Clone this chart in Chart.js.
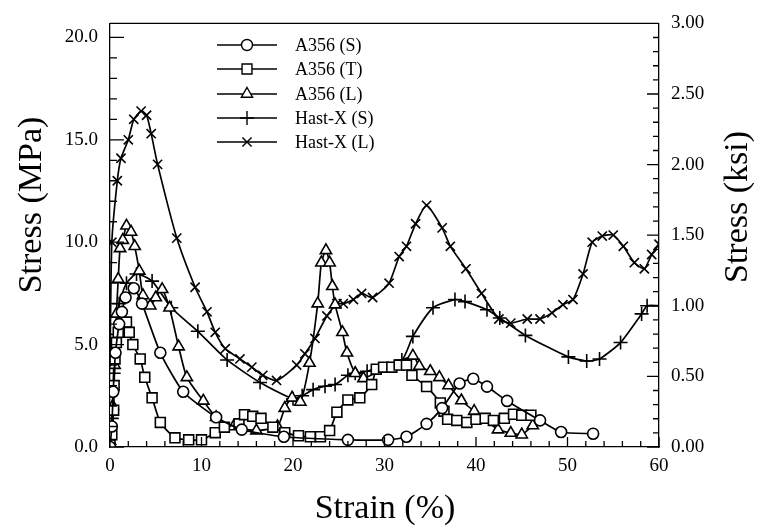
<!DOCTYPE html>
<html lang="en">
<head>
    <meta charset="utf-8" />
    <title>Stress vs Strain</title>
    <script src="https://cdn.jsdelivr.net/npm/chart.js"></script>
    <style>
        html, body { margin: 0; padding: 0; background: #ffffff; }
        #box { width: 758px; height: 531px; }
    </style>
</head>
<body>
<div id="box"><canvas id="grafico_stress"></canvas></div>
<script>
    // Dados (strain em %, stress em MPa)
    const strainA356S = [0, 0.2, 0.35, 0.6, 1.0, 1.3, 1.7, 2.6, 3.5, 5.5, 8.0, 11.6, 14.4, 19.0, 26.0, 30.4, 32.4, 34.6, 36.3, 38.2, 39.7, 41.2, 43.4, 47.0, 49.3, 52.8];
    const stressA356S = [0, 1.0, 2.7, 4.6, 6.0, 6.6, 7.3, 7.75, 7.0, 4.6, 2.7, 1.45, 0.85, 0.5, 0.35, 0.35, 0.5, 1.13, 1.9, 3.1, 3.33, 2.95, 2.25, 1.3, 0.73, 0.65];

    const strainA356T = [0, 0.2, 0.4, 0.45, 0.55, 0.7, 0.9, 1.8, 2.1, 2.5, 3.3, 3.8, 4.6, 5.5, 7.1, 8.6, 10.0, 11.5, 12.5, 14.1, 14.7, 15.6, 16.5, 17.8, 19.1, 20.6, 21.9, 23.0, 24.0, 24.8, 26.0, 27.3, 28.6, 29.1, 29.9, 30.8, 31.6, 32.4, 33.0, 34.6, 36.1, 36.5, 36.9, 37.9, 39.0, 40.0, 41.0, 41.9, 43.1, 44.1, 45.0, 46.0];
    const stressA356T = [0.1, 0.6, 1.8, 3.0, 4.3, 5.1, 5.6, 6.1, 5.6, 5.0, 4.3, 3.4, 2.4, 1.2, 0.45, 0.35, 0.35, 0.7, 0.97, 1.13, 1.58, 1.5, 1.4, 0.97, 0.7, 0.55, 0.5, 0.5, 0.8, 1.7, 2.3, 2.4, 3.05, 3.8, 3.9, 3.9, 4.0, 4.0, 3.5, 2.95, 2.15, 1.75, 1.35, 1.3, 1.2, 1.35, 1.4, 1.3, 1.4, 1.6, 1.55, 1.55];

    const strainA356L = [0, 0.3, 0.5, 0.7, 0.9, 1.1, 1.4, 1.8, 2.3, 2.7, 3.2, 3.6, 4.4, 5.0, 5.7, 6.5, 7.5, 8.4, 10.2, 11.6, 13.5, 16.0, 18.3, 19.1, 19.9, 20.8, 21.8, 22.7, 23.1, 23.6, 24.0, 24.3, 24.6, 25.4, 25.9, 26.8, 27.7, 33.1, 33.8, 35.0, 36.0, 37.0, 38.4, 39.8, 42.4, 43.8, 45.0, 46.2];
    const stressA356L = [0.3, 2.0, 4.0, 6.5, 8.2, 9.7, 10.1, 10.8, 10.5, 9.8, 8.6, 7.4, 6.9, 7.3, 7.7, 6.8, 4.9, 3.4, 2.25, 1.45, 1.0, 0.8, 1.0, 1.9, 2.4, 2.2, 4.1, 7.0, 9.0, 9.6, 9.0, 7.85, 6.95, 5.6, 4.6, 3.6, 3.35, 4.45, 3.95, 3.7, 3.4, 3.0, 2.27, 1.75, 0.85, 0.68, 0.6, 1.05];

    const strainHastS = [0, 0.2, 0.4, 0.6, 1.0, 1.8, 2.9, 4.6, 6.7, 9.6, 12.8, 16.4, 20.0, 21.0, 22.2, 23.5, 24.6, 26.0, 26.8, 28.1, 31.9, 33.1, 35.3, 37.7, 38.8, 41.2, 42.6, 45.4, 50.1, 52.1, 53.5, 55.8, 58.1, 58.7, 60];
    const stressHastS = [0, 1.4, 3.6, 5.5, 7.0, 8.0, 8.45, 8.1, 6.8, 5.65, 4.25, 3.15, 2.35, 2.5, 2.8, 2.97, 3.05, 3.5, 3.6, 3.7, 4.25, 5.4, 6.8, 7.2, 7.1, 6.7, 6.3, 5.45, 4.4, 4.2, 4.3, 5.1, 6.5, 6.9, 6.9];

    const strainHastL = [0, 0.2, 0.8, 1.2, 2.0, 2.6, 3.4, 4.0, 4.5, 5.2, 7.3, 9.3, 10.6, 11.5, 12.6, 14.2, 15.5, 16.7, 18.2, 20.4, 21.3, 22.4, 23.7, 24.8, 25.5, 26.6, 27.5, 28.7, 30.5, 31.6, 32.4, 33.4, 34.6, 36.3, 37.2, 38.9, 40.6, 42.5, 43.8, 45.6, 47.0, 48.3, 49.5, 50.6, 51.7, 52.7, 53.8, 55.0, 56.1, 57.3, 58.4, 59.2, 60];
    const stressHastL = [4.0, 10.0, 13.0, 14.1, 15.0, 16.0, 16.4, 16.2, 15.3, 13.8, 10.2, 7.8, 6.6, 5.6, 4.8, 4.3, 3.9, 3.5, 3.25, 4.0, 4.55, 5.3, 6.4, 7.0, 7.0, 7.2, 7.5, 7.3, 8.0, 9.3, 9.8, 10.9, 11.8, 10.7, 9.8, 8.7, 7.5, 6.25, 6.05, 6.25, 6.25, 6.55, 6.95, 7.2, 8.45, 10.0, 10.3, 10.35, 9.8, 9.0, 8.7, 9.4, 9.9];

    const seriesNames = ["A356 (S)", "A356 (T)", "A356 (L)", "Hast-X (S)", "Hast-X (L)"];
    const seriesMarkers = ["circle", "rect", "triangle", "cross", "crossRot"];

    const xTicks = [0, 10, 20, 30, 40, 50, 60];
    const yTicksMPa = [0, 5, 10, 15, 20];
    const yTicksKsi = [0, 0.5, 1.0, 1.5, 2.0, 2.5, 3.0];
    const KSI_MAX = 3.0;
    const MPA_POR_KSI = 6.8948;

    const fonte = "'Liberation Serif', 'DejaVu Serif', serif";

    function montarSerie(xs, ys) {
        return xs.map((x, i) => ({ x: x, y: ys[i] }));
    }

    const raios = { circle: 5.5, rect: 7, triangle: 6.5, cross: 7, crossRot: 6.5 };

    const datasets = [
        montarSerie(strainA356S, stressA356S),
        montarSerie(strainA356T, stressA356T),
        montarSerie(strainA356L, stressA356L),
        montarSerie(strainHastS, stressHastS),
        montarSerie(strainHastL, stressHastL)
    ].map((dados, i) => ({
        label: seriesNames[i],
        data: dados,
        borderColor: "#000000",
        backgroundColor: "#ffffff",
        borderWidth: 1.7,
        pointStyle: seriesMarkers[i],
        pointRadius: raios[seriesMarkers[i]],
        pointBorderWidth: 1.6,
        pointBorderColor: "#000000",
        pointBackgroundColor: "#ffffff",
        tension: 0.2,
        yAxisID: "y"
    }));

    // ticks internos, borda de cima, legenda e titulos
    const decoracao = {
        id: "decoracao",
        afterDraw(chart) {
            const ctx = chart.ctx;
            const area = chart.chartArea;
            const sx = chart.scales.x, sy = chart.scales.y, sy2 = chart.scales.y2;
            ctx.save();
            ctx.strokeStyle = "#000000";
            ctx.lineWidth = 1.3;
            ctx.beginPath();
            ctx.moveTo(area.left, area.top);
            ctx.lineTo(area.right, area.top);
            // eixo x
            for (let v = 0; v <= 60; v += 2) {
                const px = sx.getPixelForValue(v);
                const len = v % 10 === 0 ? 10 : 6;
                ctx.moveTo(px, area.bottom);
                ctx.lineTo(px, area.bottom - len);
            }
            // eixo MPa
            for (let v = 0; v <= 20; v += 1) {
                const py = sy.getPixelForValue(v);
                const len = v % 5 === 0 ? 14 : 7;
                ctx.moveTo(area.left, py);
                ctx.lineTo(area.left + len, py);
            }
            // eixo ksi
            for (let k = 0; k <= 30; k += 1) {
                const py = sy2.getPixelForValue(k / 10);
                const len = k % 5 === 0 ? 12 : 6;
                ctx.moveTo(area.right, py);
                ctx.lineTo(area.right - len, py);
            }
            ctx.stroke();

            // legenda
            const linhas = [45, 69, 94, 118, 142];
            ctx.font = "18px " + fonte;
            ctx.textBaseline = "middle";
            linhas.forEach((ly, i) => {
                ctx.strokeStyle = "#000000";
                ctx.lineWidth = 1.4;
                ctx.beginPath();
                ctx.moveTo(217, ly);
                ctx.lineTo(277, ly);
                ctx.stroke();
                ctx.fillStyle = "#ffffff";
                Chart.helpers.drawPoint(ctx, {
                    pointStyle: seriesMarkers[i],
                    radius: raios[seriesMarkers[i]],
                    rotation: 0,
                    borderWidth: 1.6
                }, 247, ly);
                ctx.fillStyle = "#000000";
                ctx.fillText(seriesNames[i], 295, ly + 1);
            });

            // titulos dos eixos
            ctx.fillStyle = "#000000";
            ctx.font = "34px " + fonte;
            ctx.textAlign = "center";
            ctx.textBaseline = "middle";
            ctx.save();
            ctx.translate(32, 205);
            ctx.rotate(-Math.PI / 2);
            ctx.fillText("Stress (MPa)", 0, 0);
            ctx.restore();
            ctx.save();
            ctx.translate(738, 207);
            ctx.rotate(-Math.PI / 2);
            ctx.fillText("Stress (ksi)", 0, 0);
            ctx.restore();
            ctx.fillText("Strain (%)", 385, 509);
            ctx.restore();
        }
    };

    const ctxStress = document.getElementById("grafico_stress").getContext("2d");
    new Chart(ctxStress, {
        type: "line",
        data: { datasets: datasets },
        plugins: [decoracao],
        options: {
            responsive: true,
            maintainAspectRatio: false,
            animation: false,
            layout: { padding: { top: 15, left: 0, right: 0, bottom: 0 } },
            plugins: {
                legend: { display: false },
                tooltip: { enabled: false }
            },
            scales: {
                x: {
                    type: "linear",
                    min: 0,
                    max: 60,
                    afterBuildTicks: (s) => { s.ticks = xTicks.map((v) => ({ value: v })); },
                    afterFit: (s) => { s.height = 84; },
                    grid: { display: false, drawTicks: false },
                    border: { display: true, color: "#000000", width: 1.3 },
                    ticks: { color: "#000000", font: { family: fonte, size: 19 }, padding: 8, maxRotation: 0 }
                },
                y: {
                    type: "linear",
                    position: "left",
                    min: 0,
                    max: KSI_MAX * MPA_POR_KSI,
                    afterBuildTicks: (s) => { s.ticks = yTicksMPa.map((v) => ({ value: v })); },
                    afterFit: (s) => { s.width = 110; },
                    grid: { display: false, drawTicks: false },
                    border: { display: true, color: "#000000", width: 1.3 },
                    ticks: { color: "#000000", font: { family: fonte, size: 19 }, padding: 12, callback: (v) => Number(v).toFixed(1) }
                },
                y2: {
                    type: "linear",
                    position: "right",
                    min: 0,
                    max: KSI_MAX,
                    afterBuildTicks: (s) => { s.ticks = yTicksKsi.map((v) => ({ value: v })); },
                    afterFit: (s) => { s.width = 99; },
                    grid: { display: false, drawTicks: false },
                    border: { display: true, color: "#000000", width: 1.3 },
                    ticks: { color: "#000000", font: { family: fonte, size: 19 }, padding: 12, callback: (v) => Number(v).toFixed(2) }
                }
            }
        }
    });
</script>
</body>
</html>
